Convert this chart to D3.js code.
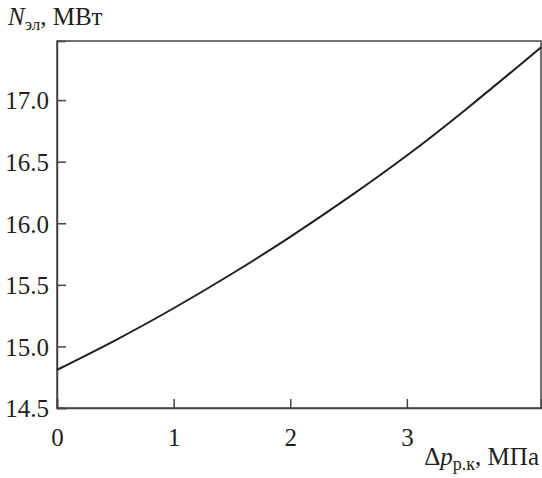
<!DOCTYPE html>
<html>
<head>
<meta charset="utf-8">
<script src="https://cdn.jsdelivr.net/npm/d3@7"></script>
<style>
  body { margin: 0; background: #fff; }
  svg text { fill: #231f20; }
</style>
</head>
<body>
<div id="container"></div>
<script>
/* DATA */
const pressure = [0, 0.5, 1, 1.5, 2, 2.5, 3, 3.5, 4, 4.15];
const power = [14.81, 15.05, 15.31, 15.59, 15.89, 16.21, 16.55, 16.92, 17.31, 17.43];
const xTicks = [0, 1, 2, 3];
const yTicks = [14.5, 15.0, 15.5, 16.0, 16.5, 17.0];

/* CONSTANTS */
const width = 542, height = 478,
  margin = { top: 41, bottom: 70, left: 57, right: 1 };
const serif = "Liberation Serif";

const svg = d3.select("#container")
  .append("svg")
  .attr("width", width)
  .attr("height", height);

const x = d3.scaleLinear()
  .domain([0, 4.15])
  .range([margin.left, width - margin.right]);

const y = d3.scaleLinear()
  .domain([14.5, 17.48])
  .range([height - margin.bottom, margin.top]);

// frame
svg.append("rect")
  .attr("x", x(0))
  .attr("y", y(17.48))
  .attr("width", x(4.15) - x(0))
  .attr("height", y(14.5) - y(17.48))
  .attr("fill", "none")
  .attr("stroke", "#444")
  .attr("stroke-width", 1.5);

// axes, ticks pointing inward
const xAxis = svg.append("g")
  .attr("transform", `translate(0,${y(14.5)})`)
  .call(d3.axisBottom(x).tickValues(xTicks).tickSize(-9).tickPadding(20).tickFormat(d3.format("d")));

const yAxis = svg.append("g")
  .attr("transform", `translate(${x(0)},0)`)
  .call(d3.axisLeft(y).tickValues(yTicks).tickSize(-9).tickPadding(8).tickFormat(d3.format(".1f")));

[xAxis, yAxis].forEach(g => {
  g.attr("font-family", serif);
  g.select(".domain").attr("stroke", "#444").attr("stroke-width", 1.5);
  g.selectAll(".tick line").attr("stroke", "#444").attr("stroke-width", 1.5);
  g.selectAll(".tick text").attr("font-size", 25).attr("fill", "#231f20");
});
yAxis.selectAll(".tick text").attr("dy", "0.35em");

// curve
const line = d3.line()
  .x((d, i) => x(pressure[i]))
  .y(d => y(d))
  .curve(d3.curveNatural);

svg.append("path")
  .datum(power)
  .attr("d", line)
  .attr("fill", "none")
  .attr("stroke", "#231f20")
  .attr("stroke-width", 2);

// axis titles
const yTitle = svg.append("text")
  .attr("x", 8)
  .attr("y", 25)
  .attr("font-family", serif)
  .attr("font-size", 25);
yTitle.append("tspan").attr("font-style", "italic").text("N");
yTitle.append("tspan").attr("font-size", 17).attr("dy", 5).text("эл");
yTitle.append("tspan").attr("dy", -5).text(", МВт");

const xTitle = svg.append("text")
  .attr("x", 539)
  .attr("y", 465)
  .attr("text-anchor", "end")
  .attr("font-family", serif)
  .attr("font-size", 25);
xTitle.append("tspan").text("Δ");
xTitle.append("tspan").attr("font-style", "italic").text("p");
xTitle.append("tspan").attr("font-size", 18).attr("dy", 5).text("р.к");
xTitle.append("tspan").attr("dy", -5).text(", МПа");
</script>
</body>
</html>
